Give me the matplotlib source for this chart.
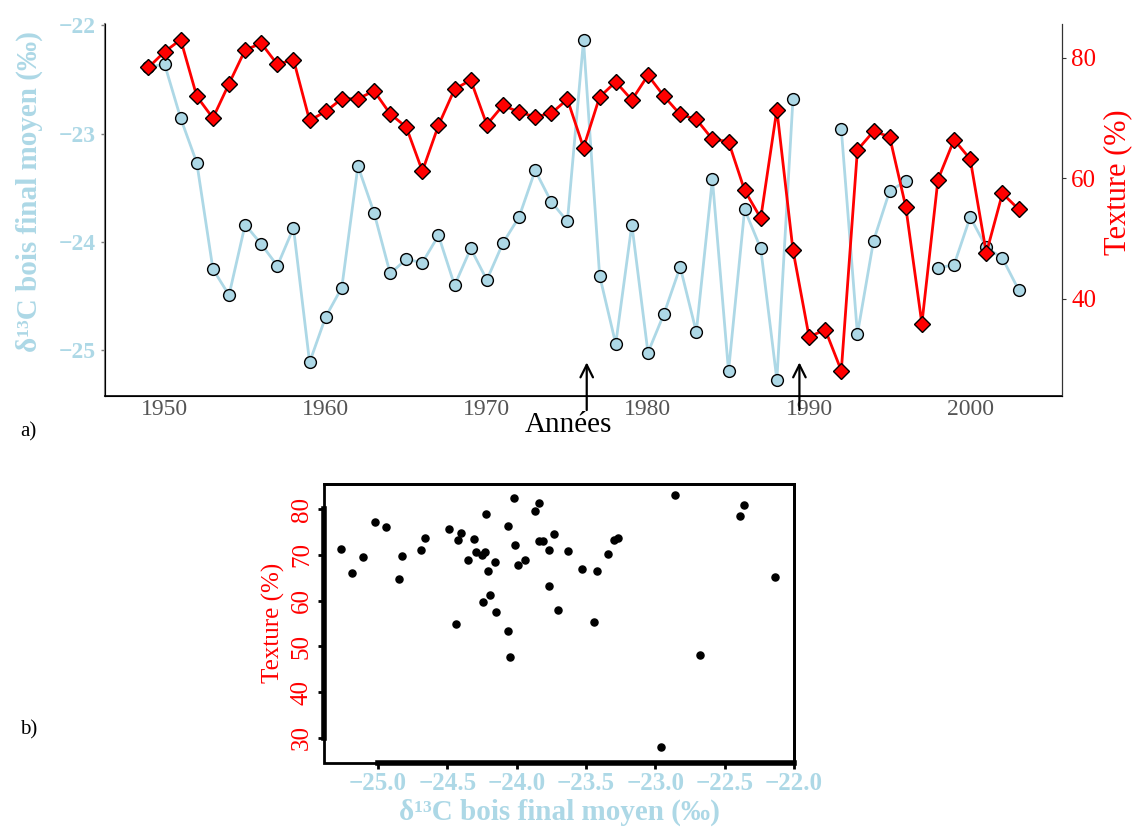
import numpy as np
import matplotlib
matplotlib.use('AGG')
import matplotlib.pyplot as plt

plt.rcParams['font.family'] = ['Liberation Serif', 'DejaVu Serif']

# donnees
annees = list(range(1949, 2004))
d13c = [-22.39, -22.36, -22.86, -23.27, -24.25, -24.49, -23.84, -24.02, -24.22, -23.87,
        -25.11, -24.69, -24.42, -23.30, -23.73, -24.29, -24.16, -24.19, -23.94, -24.40,
        -24.06, -24.35, -24.01, -23.77, -23.34, -23.63, -23.81, -22.14, -24.31, -24.94,
        -23.84, -25.02, -24.66, -24.23, -24.83, -23.42, -25.19, -23.70, -24.06, -25.27,
        -22.68, np.nan, np.nan, -22.96, -24.85, -23.99, -23.53, -23.44, np.nan, -24.24,
        -24.21, -23.77, -24.05, -24.15, -24.44]
texture = [78.4, 81.0, 83.0, 73.6, 70.0, 75.7, 81.3, 82.4, 78.9, 79.7,
           69.6, 71.1, 73.2, 73.2, 74.5, 70.7, 68.5, 61.2, 68.8, 74.8,
           76.3, 68.9, 72.1, 71.0, 70.2, 70.8, 73.1, 65.1, 73.5, 76.0,
           73.0, 77.1, 73.6, 70.6, 69.8, 66.5, 66.1, 58.0, 53.4, 71.4,
           48.1, 33.7, 34.9, 28.1, 64.7, 67.8, 66.9, 55.3, 35.9, 59.8,
           66.4, 63.2, 47.6, 57.5, 54.9]
fleches = [1976.2, 1989.4]

bleu = '#ADD8E6'
rouge = 'red'

fig = plt.figure(figsize=(11.36, 8.31), dpi=100)

# a) serie temporelle
ax1 = fig.add_axes([0.0924, 0.5235, 0.8425, 0.4476])
ax1.plot(annees, d13c, '-o', color=bleu, lw=2, ms=8.5, mfc=bleu, mec='black', mew=1)
ax1.set_xlim(1946.3, 2005.7)
ax1.set_ylim(-25.42, -21.99)
ax1.set_yticks([-25, -24, -23, -22])
ax1.set_yticklabels(['\u221225', '\u221224', '\u221223', '\u221222'])
ax1.set_xticks([1950, 1960, 1970, 1980, 1990, 2000])
ax1.tick_params(axis='y', colors='grey', labelcolor=bleu, labelsize=17, length=3, width=1)
ax1.tick_params(axis='x', length=0, labelcolor='#555555', labelsize=17, pad=2)
for t in ax1.get_yticklabels():
    t.set_fontweight('bold')
ax1.spines['top'].set_visible(False)
ax1.spines['left'].set_color('grey')
ax1.spines['left'].set_linewidth(1.5)
ax1.spines['bottom'].set_linewidth(1.2)
ax1.set_ylabel('\u03b4\u00b9\u00b3C bois final moyen (\u2030)', color=bleu, fontsize=21,
               fontweight='bold', va='center')
ax1.yaxis.set_label_coords(-0.079, 0.55)

ax2 = ax1.twinx()
ax2.plot(annees, texture, '-D', color=rouge, lw=2, ms=8, mfc=rouge, mec='black', mew=1)
ax2.set_ylim(23.9, 85.6)
ax2.set_yticks([40, 60, 80])
ax2.tick_params(axis='y', colors='#333333', labelcolor=rouge, labelsize=18, length=3)
ax2.spines['top'].set_visible(False)
ax2.spines['right'].set_color('#333333')
ax2.set_ylabel('Texture (%)', color=rouge, fontsize=22, va='center')
ax2.yaxis.set_label_coords(1.058, 0.575)

for xa in fleches:
    ax1.annotate('', xy=(xa, -25.11), xytext=(xa, -25.55), annotation_clip=False,
                 arrowprops=dict(arrowstyle='->,head_length=0.9,head_width=0.45', lw=1.6,
                                 color='black', shrinkA=0, shrinkB=0))

fig.text(0.5, 0.489, 'Ann\u00e9es', ha='center', va='center', fontsize=21)
fig.text(0.018, 0.48, 'a)', ha='left', va='center', fontsize=15)
fig.text(0.018, 0.122, 'b)', ha='left', va='center', fontsize=15)

# b) nuage de points
ax3 = fig.add_axes([0.2852, 0.0822, 0.4137, 0.3354])
ax3.scatter(d13c, texture, s=26, color='black', zorder=3)
ax3.set_xlim(-25.39, -22.0)
ax3.set_ylim(24.6, 85.5)
ax3.set_xticks([-25.0, -24.5, -24.0, -23.5, -23.0, -22.5, -22.0])
ax3.set_xticklabels(['\u221225.0', '\u221224.5', '\u221224.0', '\u221223.5',
                     '\u221223.0', '\u221222.5', '\u221222.0'])
ax3.set_yticks([30, 40, 50, 60, 70, 80])
ax3.tick_params(axis='x', labelcolor=bleu, labelsize=18, length=4, width=2, pad=3)
ax3.tick_params(axis='y', labelcolor=rouge, labelsize=18, length=4, width=2, pad=4)
for t in ax3.get_yticklabels():
    t.set_rotation(90)
    t.set_va('center')
for t in ax3.get_xticklabels():
    t.set_fontweight('bold')
for s in ['top', 'right']:
    ax3.spines[s].set_linewidth(2)
ax3.spines['left'].set_bounds(30, 80)
ax3.spines['bottom'].set_bounds(-25.0, -22.0)
ax3.spines['left'].set_linewidth(4)
ax3.spines['bottom'].set_linewidth(4)
ax3.patch.set_edgecolor('black')
ax3.patch.set_linewidth(2)
ax3.set_xlabel('\u03b4\u00b9\u00b3C bois final moyen (\u2030)', color=bleu, fontsize=21,
               fontweight='bold', labelpad=2)
ax3.set_ylabel('Texture (%)', color=rouge, fontsize=18, labelpad=4)

fig.savefig('out.png', dpi=100)
